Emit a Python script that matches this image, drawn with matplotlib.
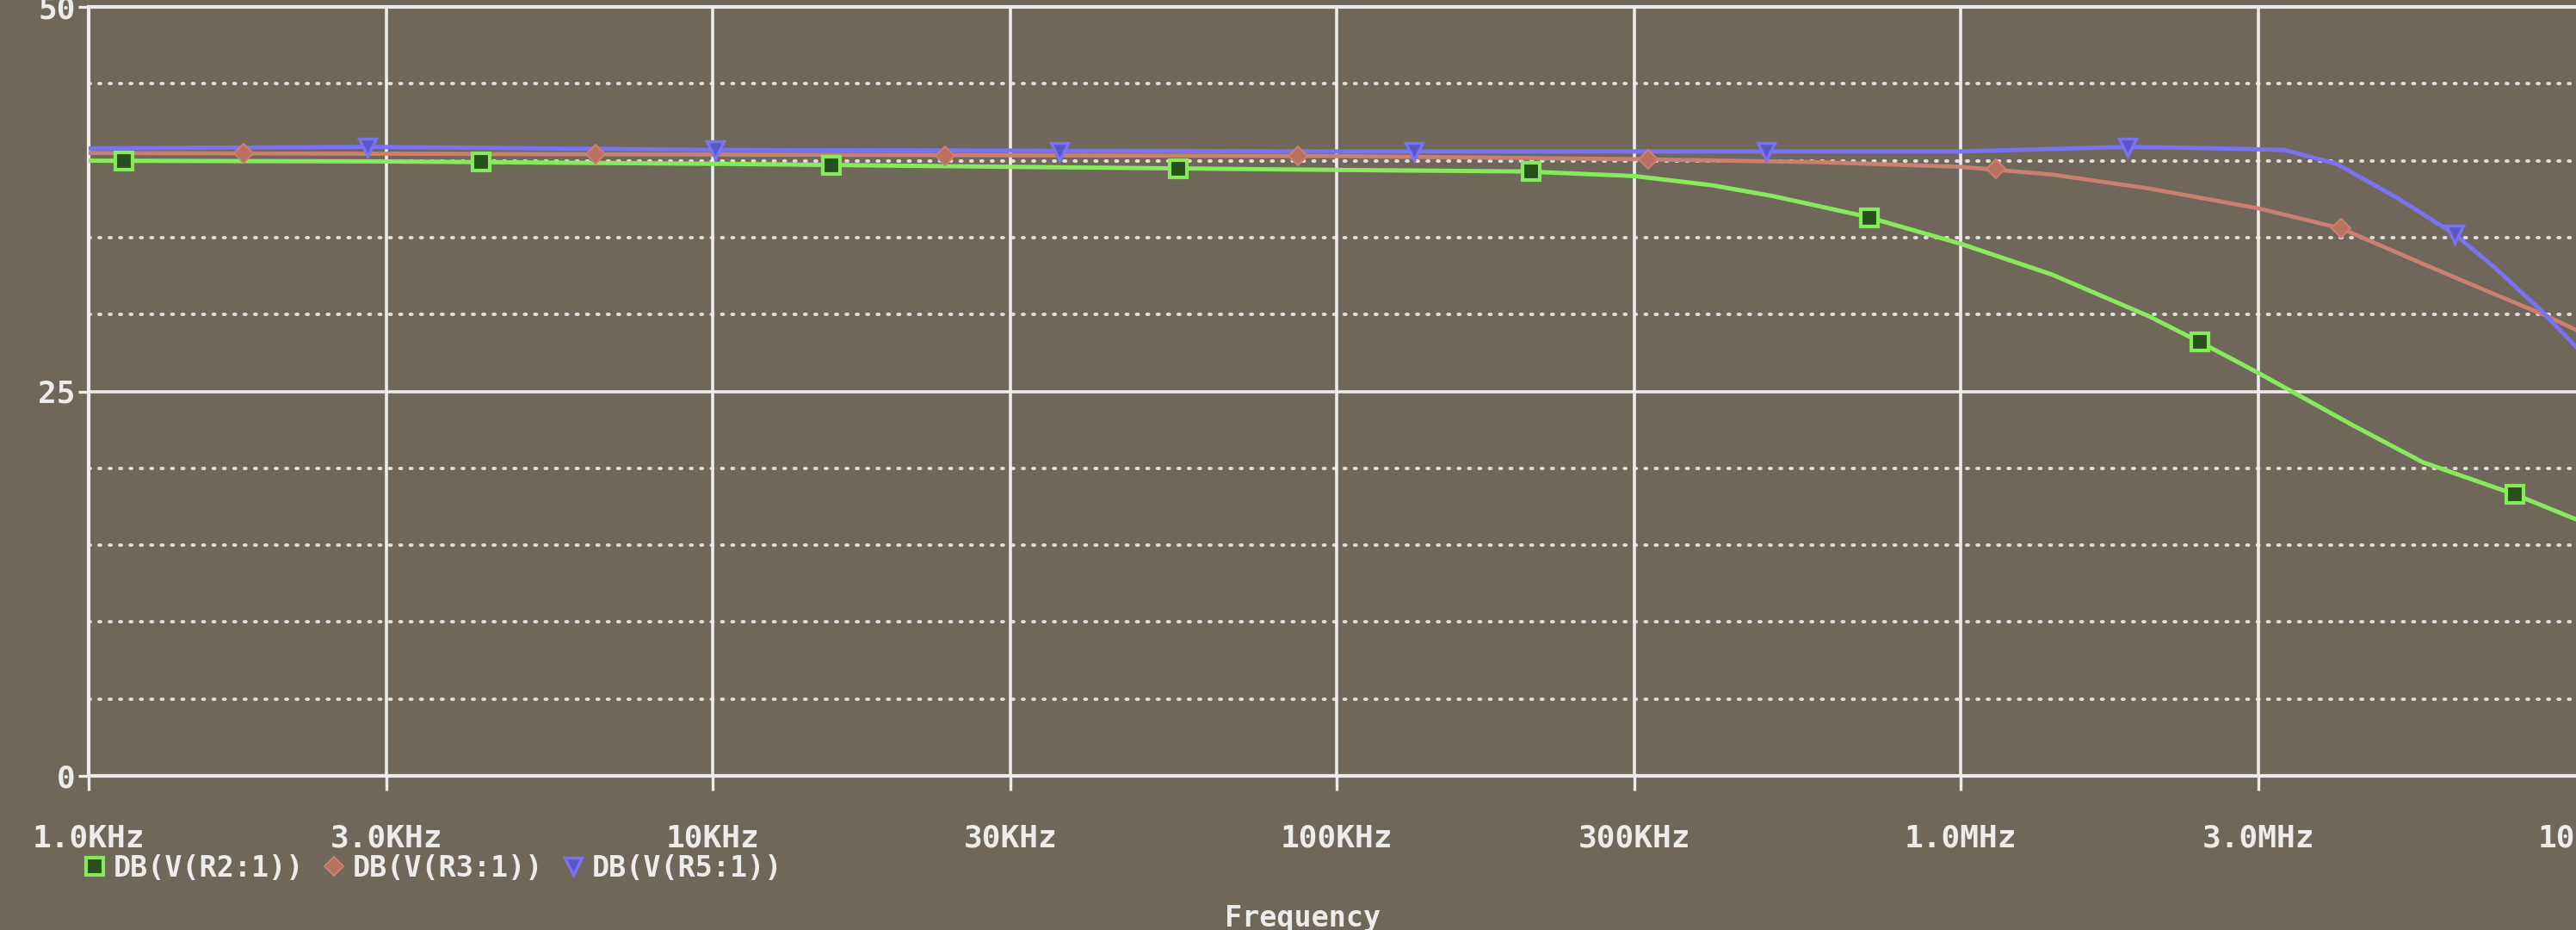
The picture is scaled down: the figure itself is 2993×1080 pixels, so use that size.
import numpy as np
import matplotlib
matplotlib.use("Agg")
import matplotlib.pyplot as plt
from matplotlib.ticker import FixedLocator, MultipleLocator, NullLocator

# ---- data (frequency in Hz, magnitude in dB) ----
f_r2 = [1e3, 3e3, 1e4, 3e4, 1e5, 2e5, 3e5, 4e5, 5e5, 7e5, 1e6, 1.4e6, 2e6,
        2.42e6, 3e6, 4.25e6, 5.5e6, 7.73e6, 9.8e6]
db_r2 = [40.0, 39.95, 39.8, 39.6, 39.4, 39.3, 39.0, 38.4, 37.7, 36.4, 34.6,
         32.6, 29.9, 28.2, 26.2, 22.8, 20.4, 18.3, 16.6]

f_r3 = [1e3, 1e4, 1e5, 3e5, 6e5, 1e6, 1.4e6, 2e6, 3e6, 4.07e6, 5.5e6,
        7.0e6, 8.7e6, 9.8e6]
db_r3 = [40.5, 40.4, 40.3, 40.1, 39.9, 39.6, 39.1, 38.2, 36.9, 35.6, 33.3,
         31.5, 29.9, 28.9]

f_r5 = [1e3, 2.8e3, 1e4, 1e5, 1e6, 1.85e6, 2.6e6, 3.3e6, 4.0e6, 5e6, 6.2e6,
        7.2e6, 8.45e6, 9.8e6]
db_r5 = [40.8, 40.9, 40.7, 40.6, 40.6, 40.9, 40.8, 40.7, 39.8, 37.6, 35.2,
         33.0, 30.4, 27.7]

# marker positions along each trace
mk_f_r2 = [1.14e3, 4.26e3, 15.5e3, 55.7e3, 205e3, 714e3, 2.42e6, 7.73e6]
mk_db_r2 = [40.0, 39.9, 39.7, 39.5, 39.3, 36.3, 28.2, 18.3]
mk_f_r3 = [1.77e3, 6.5e3, 23.6e3, 86.7e3, 316e3, 1.14e6, 4.07e6]
mk_db_r3 = [40.5, 40.4, 40.3, 40.3, 40.1, 39.5, 35.6]
mk_f_r5 = [2.8e3, 10.1e3, 36e3, 133e3, 488e3, 1.85e6, 6.2e6]
mk_db_r5 = [40.9, 40.7, 40.6, 40.6, 40.6, 40.9, 35.2]

xticks = [1e3, 3e3, 1e4, 3e4, 1e5, 3e5, 1e6, 3e6, 1e7]
xticklabels = ["1.0KHz", "3.0KHz", "10KHz", "30KHz", "100KHz", "300KHz",
               "1.0MHz", "3.0MHz", "10MHz"]
yticks = [0, 25, 50]
names = ["DB(V(R2:1))", "DB(V(R3:1))", "DB(V(R5:1))"]

bg = "#6f675a"
fg = "#ececec"
mono = "DejaVu Sans Mono"

W, H = 2993, 1080
fig = plt.figure(figsize=(W / 100, H / 100), dpi=100, facecolor=bg)
# axes run past the right edge of the picture, like the photographed screen
ax = fig.add_axes([103 / W, 1 - 901 / H, 2900 / W, 893 / H], facecolor=bg)

ax.set_xscale("log")
ax.set_xlim(1e3, 1e7)
ax.set_ylim(0, 50)

# grid
ax.xaxis.set_major_locator(FixedLocator(xticks))
ax.xaxis.set_minor_locator(NullLocator())
ax.set_xticklabels(xticklabels)
ax.yaxis.set_major_locator(FixedLocator(yticks))
ax.yaxis.set_minor_locator(MultipleLocator(5))
ax.grid(which="major", color=fg, lw=2.6, ls="-")
ax.grid(which="minor", axis="y", color=fg, lw=2.8, ls=(0, (0.5, 2.6)),
        dash_capstyle="round", alpha=0.9)
ax.set_axisbelow(True)

for s in ["left", "bottom", "top"]:
    ax.spines[s].set_color(fg)
    ax.spines[s].set_linewidth(3)
ax.spines["right"].set_visible(False)

ax.tick_params(axis="x", which="major", colors=fg, length=12, width=2.4,
               pad=28, labelsize=26)
ax.tick_params(axis="y", which="major", colors=fg, length=9, width=2.4,
               pad=2, labelsize=26)
ax.tick_params(axis="y", which="minor", length=0)
for lab in ax.get_xticklabels() + ax.get_yticklabels():
    lab.set_fontfamily(mono)
    lab.set_fontweight("bold")

# traces
c_r2, c_r3, c_r5 = "#86ea5c", "#c98070", "#7a72ee"
ax.plot(f_r3, db_r3, color=c_r3, lw=3.4, zorder=3)
ax.plot(f_r5, db_r5, color=c_r5, lw=3.6, zorder=4)
ax.plot(f_r2, db_r2, color=c_r2, lw=3.6, zorder=5)

h2, = ax.plot(mk_f_r2, mk_db_r2, ls="none", marker="s", ms=14, mfc="#27501a",
              mec=c_r2, mew=3, zorder=6, label=names[0])
h3, = ax.plot(mk_f_r3, mk_db_r3, ls="none", marker="D", ms=11, mfc="#b9705e",
              mec=c_r3, mew=1.5, zorder=6, label=names[1])
h5, = ax.plot(mk_f_r5, mk_db_r5, ls="none", marker="v", ms=15, mfc="#5a56c8",
              mec=c_r5, mew=2.5, zorder=6, label=names[2])

leg = fig.legend(handles=[h2, h3, h5], loc="center left",
                 bbox_to_anchor=(100 / W, 1 - 1008 / H), ncol=3,
                 frameon=False, handlelength=0.6, handletextpad=0.35,
                 columnspacing=0.75, borderpad=0, borderaxespad=0,
                 prop={"family": mono, "size": 24, "weight": "bold"})
for t in leg.get_texts():
    t.set_color(fg)

fig.text(1514 / W, 1 - 1050 / H, "Frequency", color=fg, fontsize=24,
         family=mono, fontweight="bold", ha="center", va="top")

fig.savefig("out.png", dpi=100, facecolor=bg)
